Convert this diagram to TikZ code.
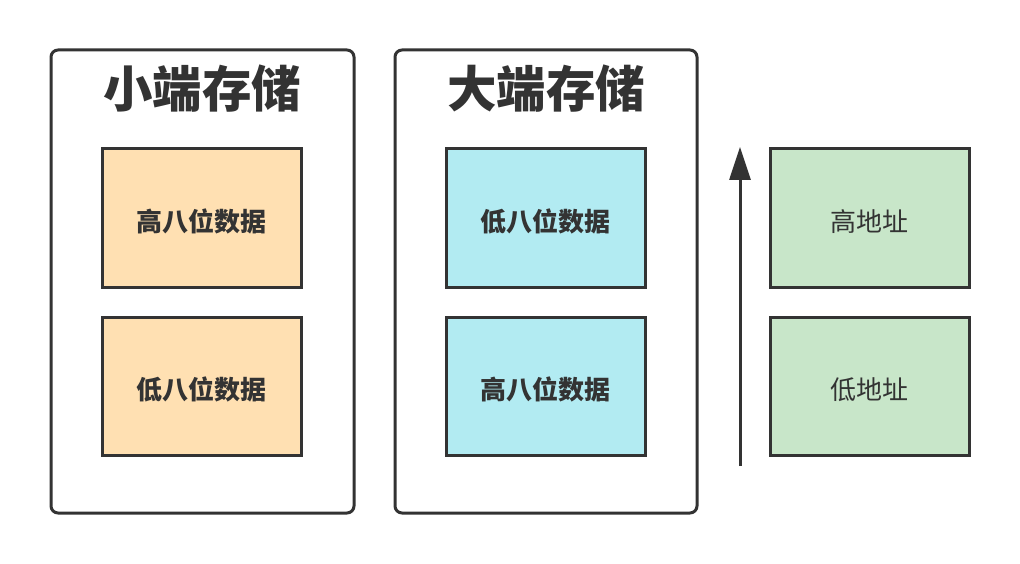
\documentclass[tikz,border=0pt]{standalone}
\usepackage{fontspec}
\newfontfamily\cjk{Noto Sans CJK SC}
\usetikzlibrary{arrows.meta}
\definecolor{edge}{HTML}{333333}
\definecolor{orangefill}{HTML}{FFE0B2}
\definecolor{cyanfill}{HTML}{B2EBF2}
\definecolor{greenfill}{HTML}{C8E6C9}
\tikzset{
  outerbox/.style={draw=edge, line width=3pt, rounded corners=7pt, fill=white},
  cellbox/.style={draw=edge, line width=3pt, minimum width=199pt, minimum height=138pt, inner sep=0pt, anchor=center},
  boldlabel/.style={font=\cjk\bfseries\fontsize{26}{26}\selectfont, text=edge, yshift=-3.5pt},
  plainlabel/.style={font=\cjk\fontsize{26}{26}\selectfont, text=edge, yshift=-3.5pt},
  titlelabel/.style={font=\cjk\bfseries\fontsize{49.5}{49.5}\selectfont, text=edge, inner sep=0pt},
}
\begin{document}
\begin{tikzpicture}[x=1pt,y=-1pt]
\useasboundingbox (0,0) rectangle (1020,564);
% outer boxes
\draw[outerbox] (51,50) rectangle (354,513);
\draw[outerbox] (395,50) rectangle (697,513);
% titles
\node[titlelabel] (t1) at (202,89) {小端存储};
\node[titlelabel] (t2) at (546,89) {大端存储};
% little endian cells
\node[cellbox, fill=orangefill, label={[boldlabel]center:高八位数据}] (l1) at (201.5,218) {};
\node[cellbox, fill=orangefill, label={[boldlabel]center:低八位数据}] (l2) at (201.5,386) {};
% big endian cells
\node[cellbox, fill=cyanfill, label={[boldlabel]center:低八位数据}] (b1) at (545.5,218) {};
\node[cellbox, fill=cyanfill, label={[boldlabel]center:高八位数据}] (b2) at (545.5,386) {};
% address cells
\node[cellbox, fill=greenfill, label={[plainlabel]center:高地址}] (a1) at (869.5,218) {};
\node[cellbox, fill=greenfill, label={[plainlabel]center:低地址}] (a2) at (869.5,386) {};
% arrow
\coordinate (arrS) at (740,466);
\coordinate (arrE) at (740,147);
\draw[draw=edge, line width=3pt, -{Triangle[length=33pt,width=21pt]}, color=edge] (arrS) -- (arrE);
\end{tikzpicture}
\end{document}
